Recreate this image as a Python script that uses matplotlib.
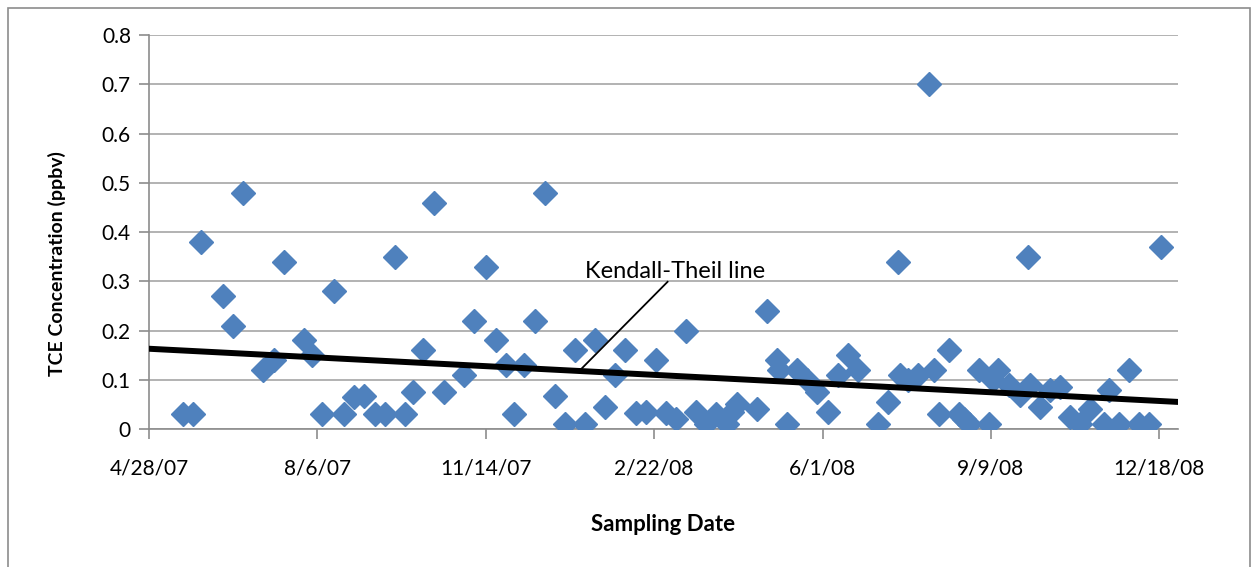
import matplotlib
matplotlib.use("Agg")
import matplotlib.pyplot as plt
import pandas as pd
from matplotlib.patches import Rectangle

plt.rcParams['font.family'] = ['Lato', 'DejaVu Sans']

# sampling days counted from 4/28/07, and TCE concentration (ppbv)
start = pd.Timestamp("2007-04-28")
days = [20, 26, 31, 44, 50, 56, 68, 74, 80, 92, 97, 103, 110, 116, 122, 128, 134, 140,
        146, 152, 157, 163, 169, 175, 187, 193, 200, 206, 212, 217, 223, 229, 235, 241,
        247, 253, 259, 265, 271, 277, 283, 289, 295, 301, 307, 313, 319, 325, 331, 337,
        343, 346, 349, 361, 367, 373, 374, 379, 385, 391, 397, 403, 409, 415, 421, 433,
        439, 445, 446, 451, 457, 463, 466, 469, 475, 481, 484, 487, 493, 499, 501, 504,
        511, 517, 522, 523, 529, 535, 541, 547, 553, 559, 567, 570, 576, 582, 588, 594,
        601]
tce = [0.03, 0.03, 0.38, 0.27, 0.21, 0.48, 0.12, 0.14, 0.34, 0.18, 0.15, 0.03, 0.28, 0.03,
       0.065, 0.068, 0.03, 0.03, 0.35, 0.03, 0.075, 0.16, 0.46, 0.075, 0.11, 0.22, 0.33,
       0.18, 0.13, 0.03, 0.13, 0.22, 0.48, 0.068, 0.01, 0.16, 0.01, 0.18, 0.045, 0.11,
       0.16, 0.033, 0.035, 0.14, 0.033, 0.02, 0.20, 0.035, 0.01, 0.03, 0.01, 0.035, 0.05,
       0.04, 0.24, 0.14, 0.12, 0.01, 0.12, 0.10, 0.075, 0.035, 0.11, 0.15, 0.12, 0.01,
       0.055, 0.34, 0.11, 0.10, 0.11, 0.70, 0.12, 0.03, 0.16, 0.03, 0.02, 0.01, 0.12, 0.01,
       0.10, 0.12, 0.09, 0.07, 0.35, 0.09, 0.045, 0.08, 0.085, 0.025, 0.01, 0.04, 0.01,
       0.08, 0.01, 0.12, 0.01, 0.01, 0.37]

# Kendall-Theil line end points (days, ppbv)
kt_days = [0, 611]
kt_vals = [0.163, 0.055]

dates = start + pd.to_timedelta(days, unit="D")
kt_dates = start + pd.to_timedelta(kt_days, unit="D")

fig = plt.figure(figsize=(12.57, 5.67), dpi=100)
fig.patches.append(Rectangle((0.0065, -0.01), 0.988, 0.996, transform=fig.transFigure,
                             fill=False, edgecolor="#8c8c8c", linewidth=1.2))
ax = fig.add_axes([0.1185, 0.2434, 0.8185, 0.6946])

ax.plot(dates, tce, linestyle="none", marker="D", markersize=12.5,
        color="#4F81BD", markeredgecolor="#4F81BD", zorder=3)
ax.plot(kt_dates, kt_vals, color="black", linewidth=4.3, zorder=4)

# annotation
ax.text(start + pd.Timedelta(days=259), 0.32, "Kendall-Theil line", fontsize=17,
        va="center", ha="left")
ax.plot([start + pd.Timedelta(days=308), start + pd.Timedelta(days=255)],
        [0.299, 0.116], color="black", linewidth=1.3, zorder=4)

ax.set_xlim(start, start + pd.Timedelta(days=611))
ax.set_ylim(0, 0.8)
ax.set_yticks([i / 10 for i in range(9)])
ax.set_yticklabels(["0"] + [f"{i/10:.1f}" for i in range(1, 9)])

xt = [start + pd.Timedelta(days=100 * i) for i in range(7)]
ax.set_xticks(xt)
ax.set_xticklabels([f"{d.month}/{d.day}/{d.strftime('%y')}" for d in xt])

ax.grid(axis="y", color="#a6a6a6", linewidth=1.2)
ax.set_axisbelow(True)
for s in ["top", "right"]:
    ax.spines[s].set_visible(False)
for s in ["left", "bottom"]:
    ax.spines[s].set_color("#8c8c8c")
    ax.spines[s].set_linewidth(1.2)
ax.tick_params(axis="both", direction="out", length=7, color="#8c8c8c",
               labelsize=15, width=1.2)
ax.tick_params(axis="x", pad=14)
ax.tick_params(axis="y", pad=6)

ax.set_xlabel("Sampling Date", fontsize=16, fontweight="bold", labelpad=26)
ax.set_ylabel("TCE Concentration (ppbv)", fontsize=14, fontweight="bold")
ax.yaxis.set_label_coords(-0.081, 0.42)

fig.savefig("out.png", dpi=100)
